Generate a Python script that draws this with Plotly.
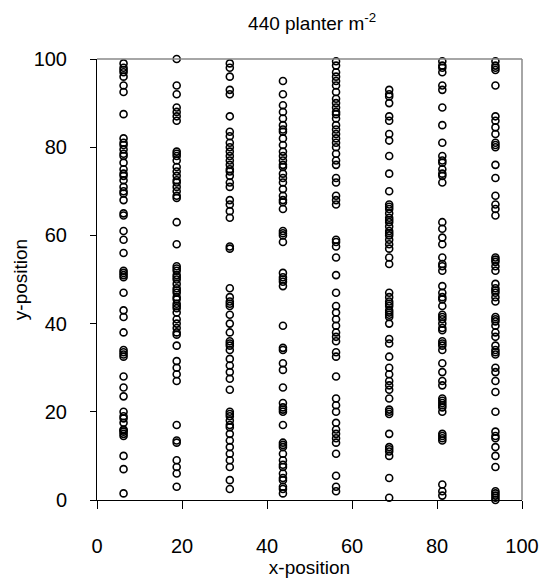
import plotly.graph_objects as go

col_x = [6.25, 18.75, 31.25, 43.75, 56.25, 68.75, 81.25, 93.75]

col1_y = [99, 98, 97.5, 97, 96, 94, 92.5, 87.5, 82, 81, 80.5, 79.5, 78.5, 78, 76.5, 75, 74, 73.5, 72.5, 71, 70, 69.5, 68,
          65, 64.5, 61, 59, 56, 52, 51.5, 51, 50.5, 47, 43, 41.5, 38, 34, 33.5, 33, 32.5, 28, 25.5, 23.5, 20, 19, 18.5,
          17.5, 16, 15.8, 15.5, 15, 14.5, 10, 7, 1.5]
col2_y = [100, 94, 92, 89, 88, 87, 86, 79, 78.5, 78, 77, 75.5, 74.5, 73.5, 72.5, 72, 71, 70, 69, 68.5, 63, 58, 53, 52.5,
          52, 51, 50.5, 50, 49, 48, 47.5, 47, 46, 45.5, 44.5, 44, 43.5, 42.5, 41, 40, 39, 38, 37.5, 35, 31.5, 30, 28.5,
          27, 17, 13.5, 13, 9, 7.5, 6, 3]
col3_y = [99, 98, 96, 93, 92, 87, 83.5, 82.5, 81, 80, 79, 78, 77, 76, 75, 74.5, 73.5, 72, 71, 68, 67, 65.5, 64, 57.5,
          57, 48, 46, 45, 44.5, 44, 42, 40, 38, 36, 35.5, 35, 34, 32, 30.5, 29, 27.5, 25, 20, 19.5, 19, 18, 17, 16.5,
          15, 13.5, 12, 10.5, 9, 7.5, 4.5, 2.5]
col4_y = [95, 92, 89.5, 88, 86.5, 85, 84, 83.5, 82, 80.5, 79, 78, 77, 76, 75.5, 74, 73, 72, 70.5, 69, 68, 67.5, 66, 61,
          60.5, 60, 58.5, 51.5, 50.5, 50, 49.5, 48.5, 39.5, 34.5, 34, 31, 29.5, 25.5, 22, 21, 20.5, 20, 17, 13, 12.5,
          12, 10.5, 9, 8, 7.5, 6, 5, 4.5, 3, 2.5, 1.5]
col5_y = [99.5, 98.5, 97, 96, 95, 94, 92.5, 91, 90, 89, 88, 87.5, 86.5, 85, 84, 83, 82, 81, 80, 78.5, 77, 76, 73, 72,
          69, 68, 67, 59, 58.5, 57.5, 55, 51, 47, 44, 42.5, 41, 39.5, 38, 37, 36, 33.5, 32.5, 28, 23, 21.5, 20, 17.5,
          16, 15, 14, 13, 10.5, 5.5, 3, 2]
col6_y = [93, 92, 91.5, 90, 87, 86, 83, 81.5, 78, 74, 70, 67, 66.5, 66, 65, 64, 63.5, 63, 62, 61, 60.5, 60, 59, 58, 57,
          55, 53.5, 47, 46, 45, 44.5, 44, 43, 42.5, 42, 41.5, 40, 36.5, 35.5, 32.5, 30, 28.5, 27, 26, 25, 23, 20.5,
          20, 19.5, 15, 12, 11.5, 11, 10, 5, 0.5]
col7_y = [99.5, 98.5, 98, 97, 94, 93, 89, 85, 81, 78, 77, 76.5, 75, 74, 73.5, 72, 63, 61.5, 59.5, 58, 55, 53.5, 53, 52,
          48.5, 47, 46, 45.5, 44, 42, 41.5, 41, 40, 39, 38.5, 36, 35.5, 35, 34, 31, 29, 27, 26, 23, 22.5, 22, 21.5,
          21, 20, 15, 14.5, 14, 13.5, 3.5, 2, 1]
col8_y = [99.5, 98.5, 98, 97.5, 94, 87, 86, 84.5, 83, 81, 80.5, 80, 76, 73, 69, 67, 66, 64.5, 55, 54.5, 54, 53, 52, 49,
          48, 47.5, 47, 46, 45, 41.5, 41, 40.5, 39.5, 38, 37, 35, 34, 33.5, 33, 30, 29, 27, 24.5, 20, 15.5, 14.5, 14,
          12, 10, 7.5, 2, 1.5, 1, 0.5, 0]

columns = [col1_y, col2_y, col3_y, col4_y, col5_y, col6_y, col7_y, col8_y]

xs, ys = [], []
for cx, cy in zip(col_x, columns):
    xs += [cx] * len(cy)
    ys += cy

x_ticks = [0, 20, 40, 60, 80, 100]
y_ticks = [0, 20, 40, 60, 80, 100]

FONT = "Liberation Sans Narrow, Liberation Sans, Arial, sans-serif"

fig = go.Figure()
fig.add_trace(go.Scatter(
    x=xs, y=ys, mode="markers",
    marker=dict(symbol="circle-open", size=7, color="black", line=dict(width=1.6, color="black")),
    cliponaxis=False, showlegend=False,
))

fig.update_layout(
    width=543, height=579,
    margin=dict(l=84, r=25, t=51, b=87),
    paper_bgcolor="white", plot_bgcolor="white",
    font=dict(family=FONT, color="black", size=20),
    title=dict(text="440 planter m<sup>-2</sup>", x=0.56, xanchor="center", y=0.974, yanchor="middle",
               font=dict(size=19, family=FONT, color="black")),
    xaxis=dict(range=[0, 100], tickvals=x_ticks, showgrid=False, zeroline=False,
               showline=True, linecolor="black", linewidth=1, ticks="outside", ticklen=8, tickcolor="black",
               ticklabelstandoff=20, tickfont=dict(size=20),
               title=dict(text="x-position", font=dict(size=19), standoff=0)),
    yaxis=dict(range=[0, 100], tickvals=y_ticks, showgrid=False, zeroline=False,
               showline=True, linecolor="black", linewidth=1, ticks="outside", ticklen=6, tickcolor="black",
               ticklabelstandoff=19, tickfont=dict(size=20),
               title=dict(text="y-position", font=dict(size=19), standoff=0)),
    shapes=[
        dict(type="line", xref="paper", yref="paper", x0=0, x1=1, y0=1, y1=1, line=dict(color="#888888", width=1.5)),
        dict(type="line", xref="paper", yref="paper", x0=1, x1=1, y0=0, y1=1, line=dict(color="#888888", width=1.5)),
    ],
)

fig.write_html("out.html")
